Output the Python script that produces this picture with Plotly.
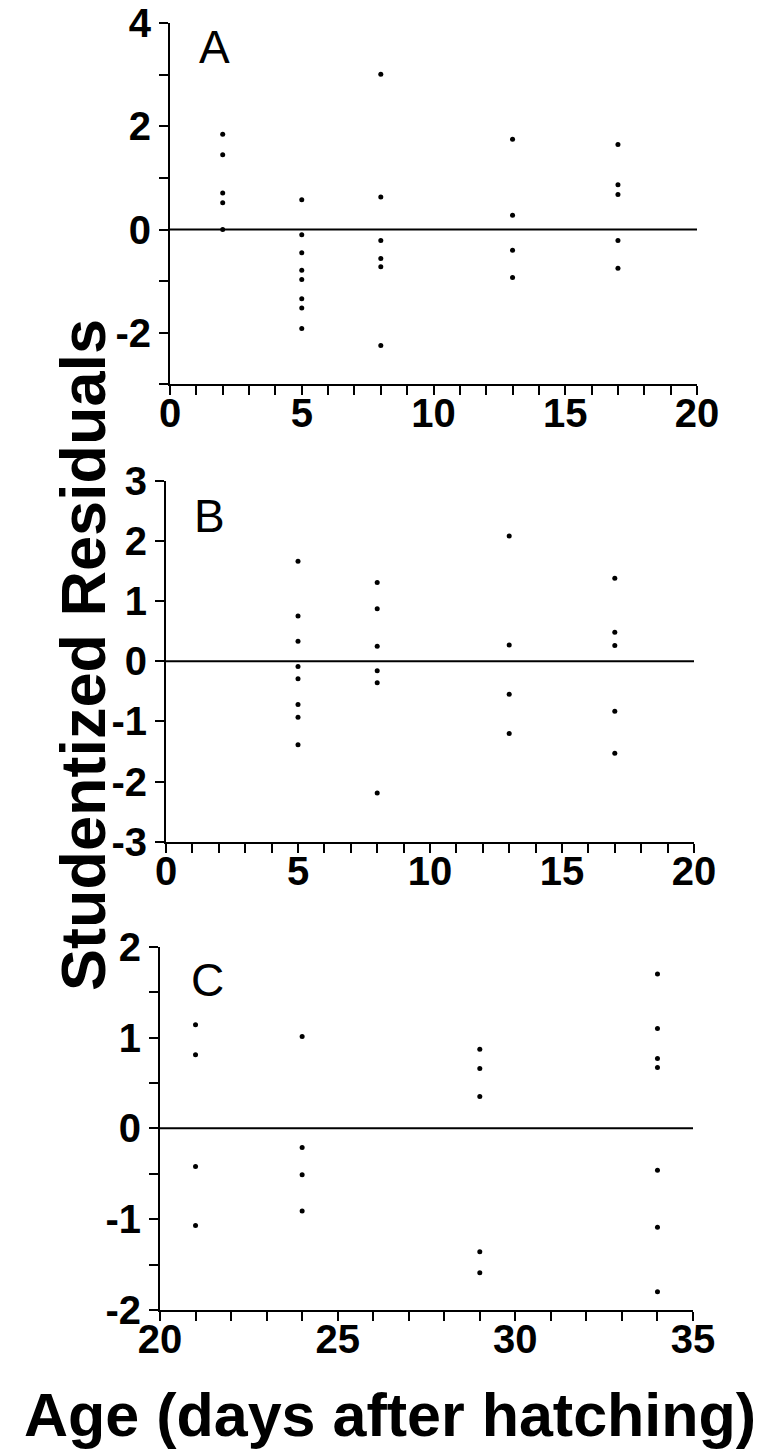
import plotly.graph_objects as go

# Panel A data
a_x = [2]*5 + [5]*8 + [8]*6 + [13]*4 + [17]*5
a_y = [1.85, 1.45, 0.71, 0.52, 0.0,
       0.58, -0.10, -0.45, -0.79, -0.97, -1.34, -1.52, -1.92,
       3.01, 0.63, -0.21, -0.56, -0.72, -2.25,
       1.75, 0.28, -0.40, -0.93,
       1.65, 0.87, 0.68, -0.21, -0.75]

# Panel B data
b_x = [5]*8 + [8]*6 + [13]*4 + [17]*5
b_y = [1.66, 0.75, 0.33, -0.09, -0.29, -0.72, -0.93, -1.39,
       1.31, 0.87, 0.25, -0.16, -0.36, -2.19,
       2.08, 0.27, -0.55, -1.20,
       1.38, 0.48, 0.26, -0.83, -1.53]

# Panel C data
c_x = [21]*4 + [24]*4 + [29]*5 + [34]*7
c_y = [1.14, 0.81, -0.42, -1.07,
       1.01, -0.21, -0.51, -0.91,
       0.87, 0.66, 0.35, -1.36, -1.59,
       1.70, 1.10, 0.77, 0.67, -0.46, -1.09, -1.80]

# tick labels
a_yticks = [4, 2, 0, -2]
a_yticktext = ["4", "2", "0", "-2"]
b_yticks = [3, 2, 1, 0, -1, -2, -3]
b_yticktext = ["3", "2", "1", "0", "-1", "-2", "-3"]
c_yticks = [2, 1, 0, -1, -2]
c_yticktext = ["2", "1", "0", "-1", "-2"]
ab_xticks = [0, 5, 10, 15, 20]
c_xticks = [20, 25, 30, 35]

panel_labels = ["A", "B", "C"]
y_title = "Studentized Residuals"
x_title = "Age (days after hatching)"

W, H = 776, 1454
FONT = "Liberation Sans, Arial, Helvetica, sans-serif"
tickfont = dict(family=FONT, size=40, color="black", weight="bold")

fig = go.Figure()
marker = dict(color="black", size=5)
fig.add_trace(go.Scatter(x=a_x, y=a_y, mode="markers", marker=marker, xaxis="x", yaxis="y", showlegend=False))
fig.add_trace(go.Scatter(x=b_x, y=b_y, mode="markers", marker=marker, xaxis="x2", yaxis="y2", showlegend=False))
fig.add_trace(go.Scatter(x=c_x, y=c_y, mode="markers", marker=marker, xaxis="x3", yaxis="y3", showlegend=False))

# zero lines
line = dict(color="black", width=2)
fig.add_trace(go.Scatter(x=[0, 20], y=[0, 0], mode="lines", line=line, xaxis="x", yaxis="y", showlegend=False))
fig.add_trace(go.Scatter(x=[0, 20], y=[0, 0], mode="lines", line=line, xaxis="x2", yaxis="y2", showlegend=False))
fig.add_trace(go.Scatter(x=[20, 35], y=[0, 0], mode="lines", line=line, xaxis="x3", yaxis="y3", showlegend=False))

def xdom(left, right):
    return [left / W, right / W]

def ydom(top, bot):
    return [1 - bot / H, 1 - top / H]

common = dict(showline=True, linecolor="black", linewidth=2,
              ticks="outside", ticklen=9, tickwidth=2, tickcolor="black",
              showgrid=False, zeroline=False, tickfont=tickfont, fixedrange=True,
              automargin=False, tickmode="array")

def xax(rng, vals, minor, dom, anchor):
    return dict(domain=dom, range=rng, tickvals=vals, ticktext=[str(v) for v in vals], anchor=anchor,
                ticklabelstandoff=-16,
                minor=dict(tick0=rng[0], dtick=minor, ticks="outside", ticklen=9, tickwidth=2, tickcolor="black"),
                **common)

def yax(rng, vals, text, minor, dom, anchor):
    return dict(domain=dom, range=rng, tickvals=vals, ticktext=text, anchor=anchor,
                minor=dict(tick0=0, dtick=minor, ticks="outside", ticklen=9, tickwidth=2, tickcolor="black"),
                **common)

fig.update_layout(
    width=W, height=H, margin=dict(l=0, r=0, t=0, b=0),
    paper_bgcolor="white", plot_bgcolor="white",
    xaxis=xax([0, 20], ab_xticks, 1, xdom(170, 697), "y"),
    yaxis=yax([-3, 4], a_yticks, a_yticktext, 1, ydom(23.3, 384.3), "x"),
    xaxis2=xax([0, 20], ab_xticks, 1, xdom(166, 694), "y2"),
    yaxis2=yax([-3, 3], b_yticks, b_yticktext, 1, ydom(480.7, 841.7), "x2"),
    xaxis3=xax([20, 35], c_xticks, 1, xdom(160, 693), "y3"),
    yaxis3=yax([-2, 2], c_yticks, c_yticktext, 0.5, ydom(946.7, 1310), "x3"),
)

lab_font = dict(family=FONT, size=46, color="black")
fig.add_annotation(x=1.7, y=3.55, xref="x", yref="y", text=panel_labels[0], showarrow=False, font=lab_font)
fig.add_annotation(x=1.65, y=2.41, xref="x2", yref="y2", text=panel_labels[1], showarrow=False, font=lab_font)
fig.add_annotation(x=21.35, y=1.63, xref="x3", yref="y3", text=panel_labels[2], showarrow=False, font=lab_font)

fig.add_annotation(x=83 / W, y=1 - 655 / H, xref="paper", yref="paper", text=y_title,
                   textangle=-90, showarrow=False, xanchor="center", yanchor="middle",
                   font=dict(family=FONT, size=63, color="black", weight="bold"))
fig.add_annotation(x=390 / W, y=1 - 1415 / H, xref="paper", yref="paper", text=x_title,
                   showarrow=False, xanchor="center", yanchor="middle",
                   font=dict(family=FONT, size=61, color="black", weight="bold"))

fig.write_html("out.html")
